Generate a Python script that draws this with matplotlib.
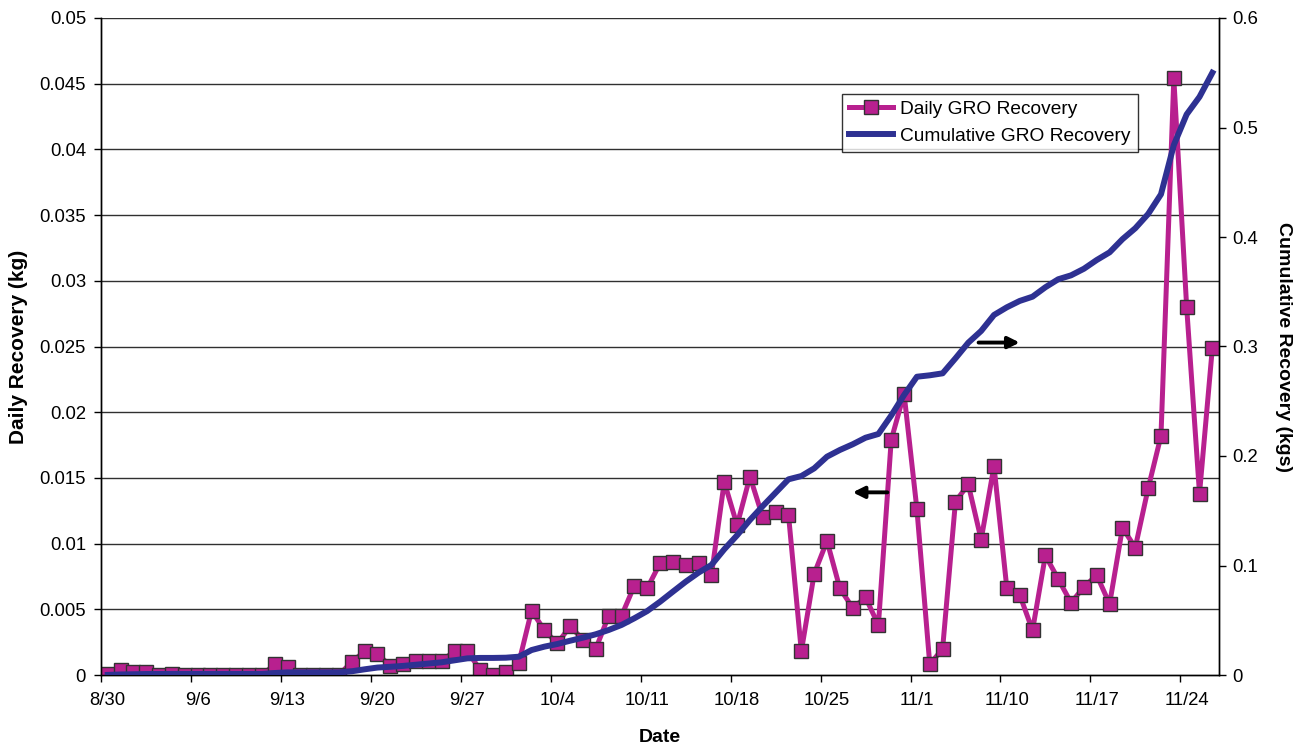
import numpy as np
import matplotlib
matplotlib.use('Agg')
import matplotlib.pyplot as plt
from matplotlib.lines import Line2D

plt.rcParams['font.family'] = ['Liberation Sans', 'DejaVu Sans']

# category labels shown every 7th point
tick_labels = ['8/30', '9/6', '9/13', '9/20', '9/27', '10/4', '10/11',
               '10/18', '10/25', '11/1', '11/10', '11/17', '11/24']

# daily GRO recovery (kg), one value per sampling day
daily = [0.0001, 0.0004, 0.0002, 0.0002, 0.0, 0.0001, 0.0, 0.0, 0.0, 0.0, 0.0, 0.0, 0.0,
         0.0008, 0.0006,
         0.0, 0.0, 0.0, 0.0,
         0.0010, 0.0018, 0.0016, 0.0007, 0.0008, 0.0011, 0.0011, 0.0011, 0.0018, 0.0018,
         0.0004, 0.0, 0.0002, 0.0009, 0.0049, 0.0034, 0.0024, 0.0037, 0.0027, 0.0020,
         0.0045, 0.0045, 0.0068, 0.0066, 0.0085, 0.0086, 0.0084, 0.0085,
         0.0076, 0.0147, 0.0114, 0.0151, 0.0120, 0.0124, 0.0122, 0.0018, 0.0077, 0.0102,
         0.0066, 0.0051, 0.0059, 0.0038, 0.0179, 0.0214, 0.0126, 0.0008, 0.0020, 0.0132,
         0.0145, 0.0103, 0.0159, 0.0066, 0.0061, 0.0034, 0.0091, 0.0073, 0.0055, 0.0067,
         0.0076, 0.0054, 0.0112, 0.0097, 0.0142, 0.0182, 0.0454, 0.0280, 0.0138, 0.0249]

# cumulative GRO recovery (kgs)
cumulative = [0.0001, 0.0005, 0.0007, 0.0009, 0.0009, 0.001, 0.001, 0.001, 0.001, 0.001, 0.001, 0.001, 0.001,
              0.0018, 0.0024,
              0.0024, 0.0024, 0.0024, 0.0024,
              0.0034, 0.0052, 0.0068, 0.0075, 0.0083, 0.0094, 0.0105, 0.0116, 0.0134, 0.0152,
              0.0156, 0.0156, 0.0158, 0.0167, 0.0228, 0.0259, 0.0283, 0.0313, 0.0341, 0.0372,
              0.0411, 0.0457, 0.0518, 0.0584, 0.0669, 0.0761, 0.0852, 0.0935,
              0.1005, 0.1148, 0.1276, 0.1416, 0.1543, 0.1665, 0.1787, 0.1817, 0.1887, 0.1994,
              0.2055, 0.2107, 0.2167, 0.2201, 0.2370, 0.2557, 0.2724, 0.2737, 0.2755, 0.2892,
              0.3035, 0.3142, 0.3288, 0.3358, 0.3416, 0.3455, 0.3541, 0.3614, 0.3650, 0.3710,
              0.3790, 0.3860, 0.3980, 0.4080, 0.4210, 0.4390, 0.4840, 0.5120, 0.5280, 0.5500]

MAGENTA = '#B8208F'
NAVY = '#2E3192'

x = np.arange(len(daily))

fig = plt.figure(figsize=(13.07, 7.5), dpi=100)
ax1 = fig.add_axes([0.0775, 0.1, 0.855, 0.876])
ax2 = ax1.twinx()

# gridlines on the left scale
for v in np.arange(0.005, 0.0501, 0.005):
    ax1.axhline(v, color='#303030', lw=1.0, zorder=0)

ax1.plot(x, daily, color=MAGENTA, lw=3.6, marker='s', markersize=9.6,
         markerfacecolor=MAGENTA, markeredgecolor='#333333', markeredgewidth=1.0,
         zorder=3)
ax2.plot(x, cumulative, color=NAVY, lw=4.3, zorder=3)

ax1.set_xlim(-0.5, len(daily) - 0.5)
ax1.set_ylim(0, 0.05)
ax2.set_ylim(0, 0.6)

ax1.set_yticks(np.arange(0, 0.0501, 0.005))
ax1.set_yticklabels(['0', '0.005', '0.01', '0.015', '0.02', '0.025', '0.03',
                     '0.035', '0.04', '0.045', '0.05'])
ax2.set_yticks(np.arange(0, 0.61, 0.1))
ax2.set_yticklabels(['0', '0.1', '0.2', '0.3', '0.4', '0.5', '0.6'])

# tick marks between categories, labels centred on categories
label_pos = np.arange(0, len(daily), 7)[:len(tick_labels)]
ax1.set_xticks(label_pos - 0.5)
ax1.set_xticklabels([])
ax1.set_xticks(label_pos, minor=True)
ax1.set_xticklabels(tick_labels, minor=True)
ax1.tick_params(axis='x', which='major', direction='out', length=5, width=1)
ax1.tick_params(axis='x', which='minor', length=0, pad=12, labelsize=13.3)
ax1.tick_params(axis='y', direction='out', length=5, width=1, labelsize=13.3, pad=6)
ax2.tick_params(axis='y', direction='out', length=5, width=1, labelsize=13.3, pad=5)

for ax in (ax1, ax2):
    ax.spines['top'].set_visible(False)
    for s in ax.spines.values():
        s.set_linewidth(1.0)

ax1.set_xlabel('Date', fontsize=14, fontweight='bold', labelpad=15)
ax1.set_ylabel('Daily Recovery (kg)', fontsize=15, fontweight='bold', labelpad=8)
ax2.set_ylabel('Cumulative Recovery (kgs)', fontsize=14, fontweight='bold',
               rotation=-90, labelpad=24)

# arrows pointing to the matching axis
right_arrow = ((67.8, 0.0253), (71.0, 0.0253))
left_arrow = ((60.7, 0.0139), (58.0, 0.0139))
for start, end in (right_arrow, left_arrow):
    ax1.annotate('', xy=end, xytext=start,
                 arrowprops=dict(arrowstyle='-|>', color='black', lw=2.8,
                                 mutation_scale=17, shrinkA=0, shrinkB=0))

handles = [Line2D([], [], color=MAGENTA, lw=3.6, marker='s', markersize=9.6,
                  markerfacecolor=MAGENTA, markeredgecolor='#333333'),
           Line2D([], [], color=NAVY, lw=4.3)]
leg = ax2.legend(handles, ['Daily GRO Recovery', 'Cumulative GRO Recovery'],
                 loc='upper left', bbox_to_anchor=(842 / 1307, 1 - 94 / 750),
                 bbox_transform=fig.transFigure, borderaxespad=0,
                 fontsize=13.8, frameon=True, fancybox=False, handlelength=2.3,
                 handletextpad=0.4, labelspacing=0.5, borderpad=0.35)
leg.get_frame().set_edgecolor('black')
leg.get_frame().set_linewidth(1.0)

fig.savefig('out.png', dpi=100)
